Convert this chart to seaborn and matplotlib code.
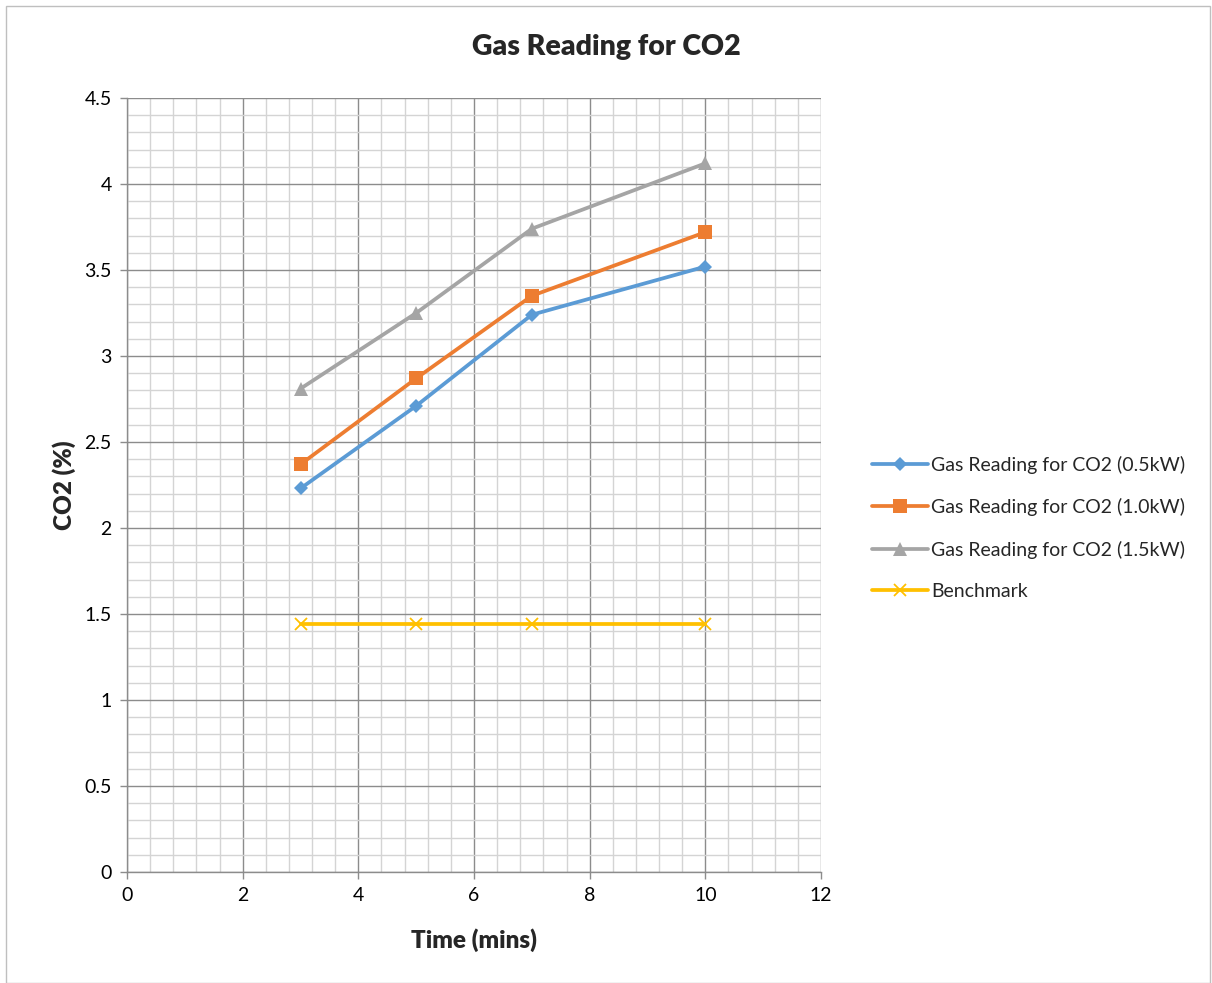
import matplotlib
matplotlib.use("Agg")
import matplotlib.pyplot as plt
import seaborn as sns
import pandas as pd
from matplotlib.ticker import MultipleLocator
from matplotlib.patches import Rectangle

sns.set_theme(style="white")
plt.rcParams['font.family'] = ['Lato', 'DejaVu Sans']

time_mins = [3, 5, 7, 10]
co2_05kw = [2.23, 2.71, 3.24, 3.52]
co2_10kw = [2.37, 2.87, 3.35, 3.72]
co2_15kw = [2.81, 3.25, 3.74, 4.12]
benchmark = [1.44, 1.44, 1.44, 1.44]

series_names = ["Gas Reading for CO2 (0.5kW)", "Gas Reading for CO2 (1.0kW)",
                "Gas Reading for CO2 (1.5kW)", "Benchmark"]
series_values = [co2_05kw, co2_10kw, co2_15kw, benchmark]
colors = ["#5B9BD5", "#ED7D31", "#A5A5A5", "#FFC000"]
markers = ["D", "s", "^", "x"]
msizes = [7.5, 10, 10, 8]

fig = plt.figure(figsize=(12.12, 9.83), dpi=100)
ax = fig.add_axes([0.1048, 0.1129, 0.5726, 0.7874])

for name, vals, c, m, ms in zip(series_names, series_values, colors, markers, msizes):
    df = pd.DataFrame({"x": time_mins, "y": vals})
    sns.lineplot(data=df, x="x", y="y", ax=ax, color=c, marker=m, markersize=ms,
                 markeredgecolor=c, markeredgewidth=1.3 if m == "x" else 0,
                 linewidth=2.7, label=name, sort=False, zorder=3)

ax.set_xlim(0, 12)
ax.set_ylim(0, 4.5)
ax.xaxis.set_major_locator(MultipleLocator(2))
ax.xaxis.set_minor_locator(MultipleLocator(0.4))
ax.yaxis.set_minor_locator(MultipleLocator(0.1))
ax.set_yticks([0, 0.5, 1, 1.5, 2, 2.5, 3, 3.5, 4, 4.5])
ax.set_yticklabels(["0", "0.5", "1", "1.5", "2", "2.5", "3", "3.5", "4", "4.5"])
ax.grid(which="minor", color="#D4D4D4", linewidth=1.0, zorder=0)
ax.grid(which="major", color="#8C8C8C", linewidth=1.0, zorder=1)
ax.set_axisbelow(True)
for side in ["top", "right"]:
    ax.spines[side].set_visible(False)
for side in ["left", "bottom"]:
    ax.spines[side].set_color("#8C8C8C")
    ax.spines[side].set_linewidth(1.0)
ax.tick_params(axis="both", which="major", length=5, width=1, color="#8C8C8C",
               labelsize=14, labelcolor="black", direction="out", bottom=True, left=True, pad=6)
ax.tick_params(which="minor", length=0)

ax.set_xlabel("Time (mins)", fontsize=17.5, fontweight="heavy", labelpad=17)
ax.set_ylabel("CO2 (%)", fontsize=17.5, fontweight="heavy", labelpad=6)

fig.text(0.5, 0.952, "Gas Reading for CO2", ha="center", va="center",
         fontsize=20.5, fontweight="heavy")

leg = ax.legend(loc="center left", bbox_to_anchor=(0.705, 0.463),
                bbox_transform=fig.transFigure, frameon=False, fontsize=14,
                handlelength=2.9, handletextpad=0.15, labelspacing=1.25)

fig.patches.append(Rectangle((0.005, 0.0), 0.993, 0.994, transform=fig.transFigure,
                             fill=False, edgecolor="#BFBFBF", linewidth=1))

fig.savefig("out.png", dpi=100)
